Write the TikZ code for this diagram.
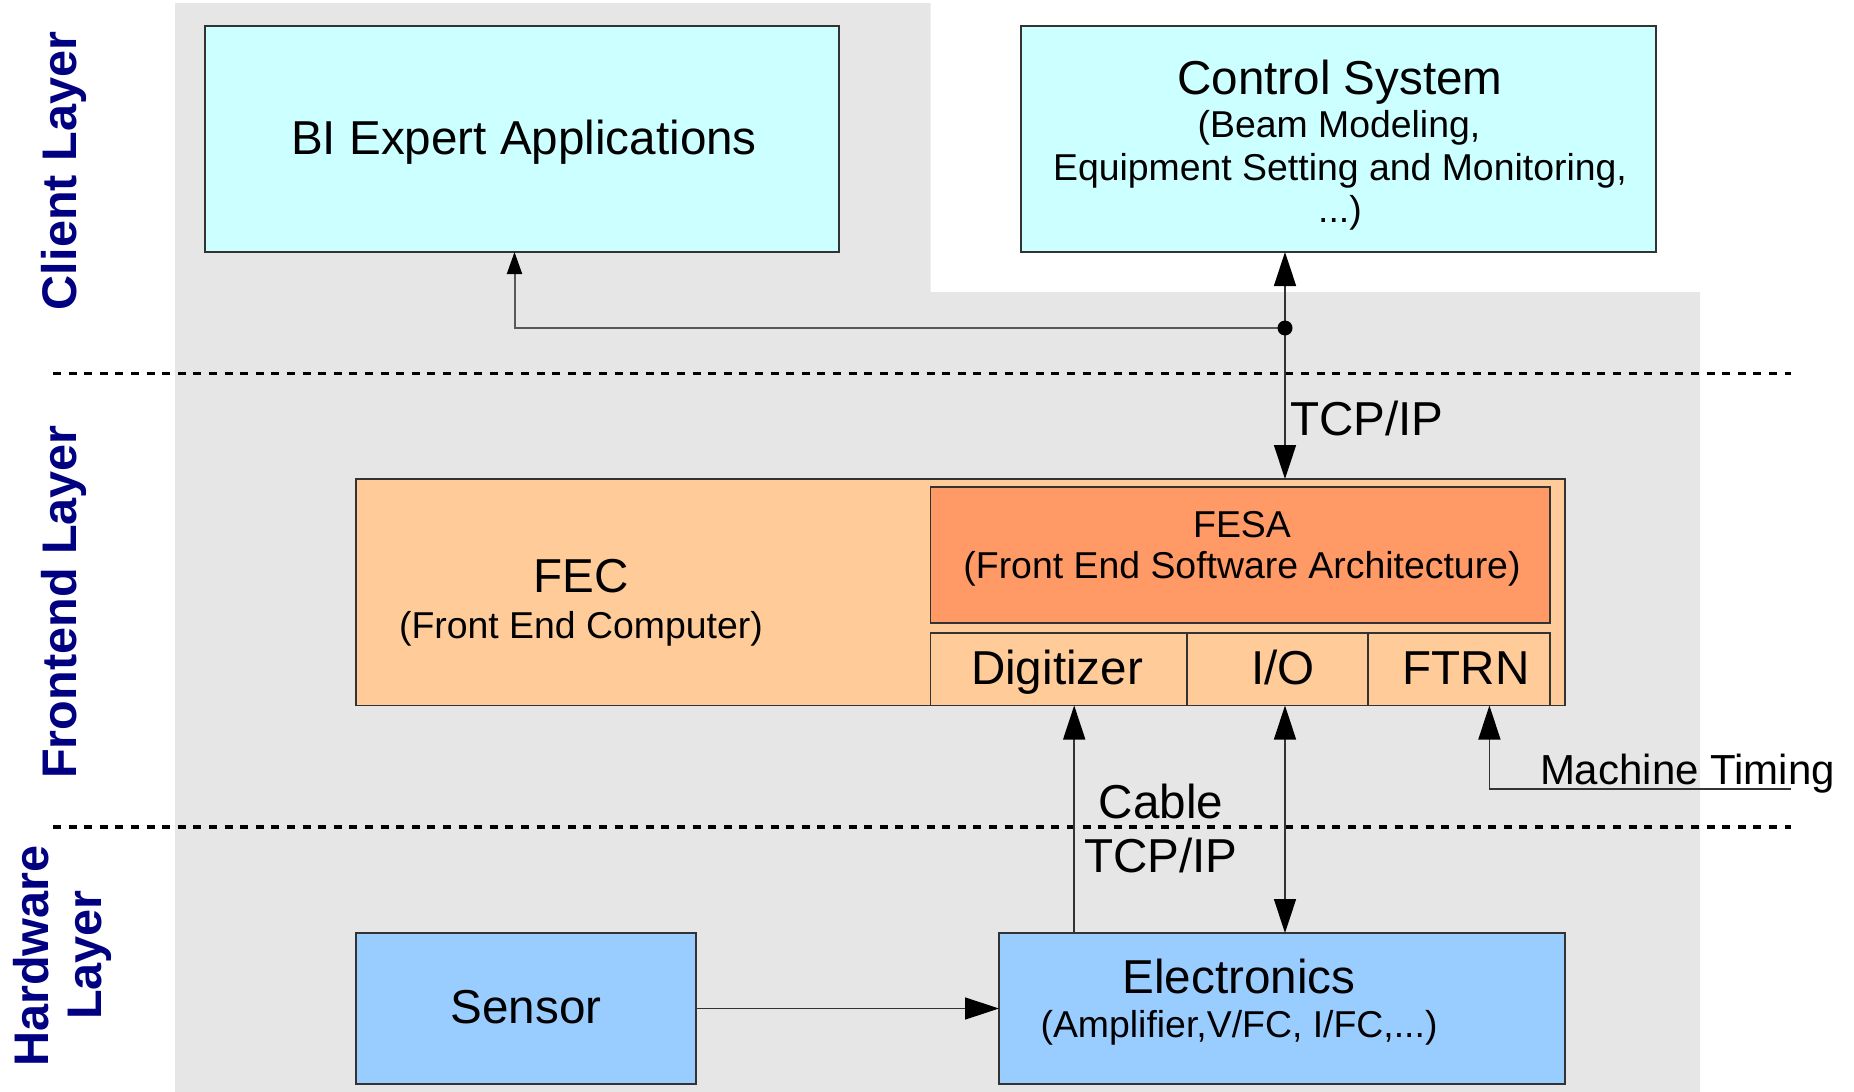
\documentclass[tikz,border=0pt]{standalone}
\usepackage{fontspec}
\setmainfont{Liberation Sans}
\usetikzlibrary{arrows.meta}
\definecolor{bgray}{HTML}{E6E6E6}
\definecolor{cyanbox}{HTML}{CCFFFF}
\definecolor{peach}{HTML}{FFCC99}
\definecolor{fesaor}{HTML}{FF9966}
\definecolor{bluebox}{HTML}{99CCFF}
\definecolor{navy}{RGB}{0,0,128}
\definecolor{edge}{HTML}{333333}
\newcommand{\bigfont}{\fontsize{23.8pt}{28pt}\selectfont}
\newcommand{\lblfont}{\fontsize{24.3pt}{28pt}\selectfont}
\newcommand{\midfont}{\fontsize{18.7pt}{22pt}\selectfont}
\newcommand{\mtfont}{\fontsize{21pt}{25pt}\selectfont}
\tikzset{
  boxnode/.style={draw=edge, line width=0.7pt, inner sep=0pt, outer sep=0pt},
  txt/.style={inner sep=0pt, outer sep=0pt, anchor=base},
  layerlbl/.style={inner sep=0pt, outer sep=0pt, anchor=base, rotate=90, text=navy, font=\lblfont\bfseries},
  conn/.style={draw=edge, line width=0.75pt},
  bigtip/.tip={Triangle[length=17pt,width=11pt,color=black]},
  smalltip/.tip={Triangle[length=11pt,width=7.5pt,color=black]},
  sepline/.style={line width=1.8pt, dash pattern=on 4pt off 3.8pt, black}
}
\begin{document}
\begin{tikzpicture}[x=0.5pt,y=-0.5pt]
\useasboundingbox (0,0) rectangle (1854,1092);
% gray background
\fill[bgray] (175,3) -- (930.5,3) -- (930.5,292) -- (1700,292) -- (1700,1092) -- (175,1092) -- cycle;
% separator lines
\coordinate (s1a) at (53,373.5);
\coordinate (s1b) at (1791,373.5);
\coordinate (s2a) at (53,827);
\coordinate (s2b) at (1791,827);
\draw[sepline] (s1a) -- (s1b);
\draw[sepline] (s2a) -- (s2b);
% boxes
\node[boxnode, fill=cyanbox, minimum width=317pt, minimum height=113pt] (bi) at (522,139) {};
\node[boxnode, fill=cyanbox, minimum width=317.5pt, minimum height=113pt] (cs) at (1338.5,139) {};
\node[boxnode, fill=peach, minimum width=604.5pt, minimum height=113.25pt] (fec) at (960.5,592.25) {};
\node[boxnode, fill=fesaor, minimum width=309.8pt, minimum height=68pt] (fesa) at (1240.2,555) {};
\node[boxnode, fill=peach, minimum width=128.3pt, minimum height=36.25pt] (dig) at (1058.7,669.25) {};
\node[boxnode, fill=peach, minimum width=90.5pt, minimum height=36.25pt] (io) at (1277.5,669.25) {};
\node[boxnode, fill=peach, minimum width=91pt, minimum height=36.25pt] (ftrn) at (1459,669.25) {};
\node[boxnode, fill=bluebox, minimum width=170pt, minimum height=75.5pt] (sen) at (526,1008.5) {};
\node[boxnode, fill=bluebox, minimum width=283pt, minimum height=75.5pt] (ele) at (1282,1008.5) {};
% texts
\node[txt, font=\bigfont] (tbi) at (524,154) {BI Expert Applications};
\node[txt, font=\bigfont] (tcs1) at (1340,94) {Control System};
\node[txt, font=\midfont] (tcs2) at (1339,137) {(Beam Modeling,};
\node[txt, font=\midfont] (tcs3) at (1340,180) {Equipment Setting and Monitoring,};
\node[txt, font=\midfont] (tcs4) at (1340,222) {...)};
\node[txt, font=\midfont] (tfesa1) at (1242,537.7) {FESA};
\node[txt, font=\midfont] (tfesa2) at (1242,578.7) {(Front End Software Architecture)};
\node[txt, font=\bigfont] (tfec1) at (581,592.8) {FEC};
\node[txt, font=\midfont] (tfec2) at (581,638) {(Front End Computer)};
\node[txt, font=\bigfont] (tdig) at (1057,684.6) {Digitizer};
\node[txt, font=\bigfont] (tio) at (1283,684.6) {I/O};
\node[txt, font=\bigfont] (tftrn) at (1466,684.6) {FTRN};
\node[txt, font=\bigfont] (tsen) at (526,1023.6) {Sensor};
\node[txt, font=\bigfont] (tele1) at (1239,993.5) {Electronics};
\node[txt, font=\midfont] (tele2) at (1239,1037.7) {(Amplifier,V/FC, I/FC,...)};
\node[txt, font=\bigfont, anchor=base west] (ttcp1) at (1290,435) {TCP/IP};
\node[txt, font=\bigfont] (tcable) at (1161,818) {Cable};
\node[txt, font=\bigfont] (ttcp2) at (1161,872) {TCP/IP};
\node[txt, font=\mtfont, anchor=base west] (tmt) at (1540,784) {Machine Timing};
% layer labels
\node[layerlbl] (lclient) at (76,171) {Client Layer};
\node[layerlbl] (lfront) at (76,602) {Frontend Layer};
\node[layerlbl] (lhw1) at (48,956) {Hardware};
\node[layerlbl] (lhw2) at (101,955) {Layer};
% connectors
\coordinate (j) at (1285,328);
\coordinate (biend) at ([xshift=-3.75pt]bi.south);
\coordinate (digend) at ([xshift=7.75pt]dig.south);
\coordinate (ftrnend) at ([xshift=15.2pt]ftrn.south);
\coordinate (mt) at (1791,789);
\draw[conn, bigtip-bigtip] (j |- cs.south) -- (j |- fec.north);
\draw[draw=black!65, line width=1pt, -smalltip] (j) -| (biend);
\fill[black] (j) circle[radius=3.75pt];
\draw[conn, -bigtip] (ele.north -| digend) -- (digend);
\draw[conn, bigtip-bigtip] (ele.north -| j) -- (io.south -| j);
\draw[conn, -bigtip] (mt) -| (ftrnend);
\draw[conn, -bigtip] (sen.east) -- (sen.east -| ele.west);
\end{tikzpicture}
\end{document}
